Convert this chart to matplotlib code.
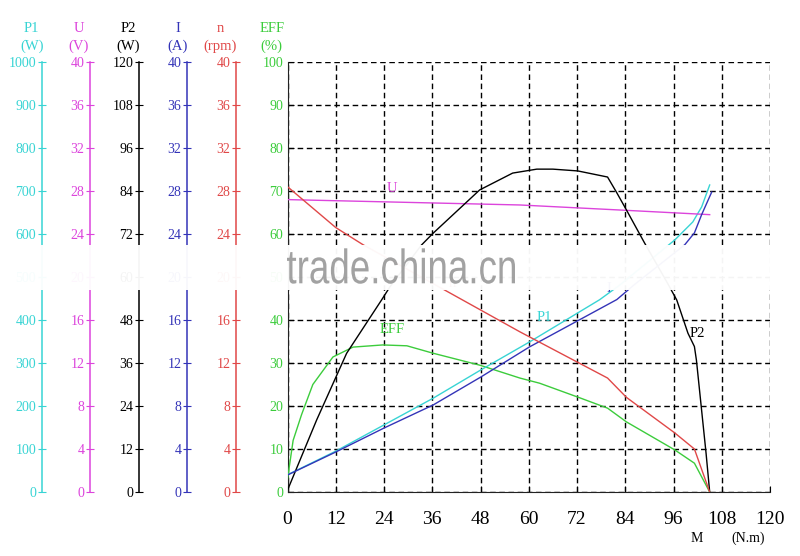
import matplotlib
matplotlib.use("Agg")
import matplotlib.pyplot as plt
import matplotlib.transforms as mtransforms
from matplotlib.patches import Rectangle, PathPatch
from matplotlib.textpath import TextPath
from matplotlib.font_manager import FontProperties

plt.rcParams['font.family'] = ['Liberation Serif', 'DejaVu Serif']

# torque M (N.m) and the curves
m_p1 = [0, 12, 24, 36.2, 48.1, 60.2, 77.6, 82.6, 96.3, 100.8, 103, 105]
p1 = [40, 95, 156, 218, 284, 349, 447, 481, 586, 628, 663, 714]

m_u = [0, 57.8, 84.3, 105]
u = [27.2, 26.7, 26.2, 25.8]

m_p2 = [0, 7.25, 14.7, 23.4, 25.5, 33.3, 36.2, 47.8, 56, 62, 66, 72.2, 79.6, 81.9,
        84.3, 88.8, 94.5, 96.8, 99.6, 101.2, 101.7, 102.9, 104.1, 105]
p2 = [0.5, 20.1, 38.7, 53.6, 57.3, 68.9, 72.2, 84.3, 89, 90.1, 90.1, 89.6, 87.9, 83.5,
      78.7, 69.5, 58.3, 53.6, 44.3, 40.6, 36.8, 23.8, 10.8, 0]

m_i = [0, 12, 24, 36.2, 48.1, 60.2, 81.9, 86.3, 98.8, 101.2, 103, 105.5]
cur = [1.58, 3.72, 5.95, 8.09, 10.7, 13.5, 17.9, 19.3, 23.0, 24.1, 25.8, 27.9]

m_n = [0, 12, 18.8, 37.1, 57.8, 72.5, 79.6, 84.3, 96.3, 101.2, 105]
n = [28.4, 24.6, 23.0, 19.2, 14.9, 12.0, 10.6, 8.8, 5.5, 4.0, 0]

m_eff = [0, 1.4, 3.5, 6.3, 11.3, 16.3, 23.7, 29.7, 36.1, 47.8, 57.8, 62.7, 72.7,
         79.6, 84.3, 96.3, 101.2, 105]
eff = [3, 12, 18, 25, 31.4, 33.7, 34.2, 34.0, 32.3, 29.5, 26.5, 25.3, 21.9,
       19.5, 16.3, 9.8, 6.7, 0]

x_ticks = [0, 12, 24, 36, 48, 60, 72, 84, 96, 108, 120]

CYAN = '#38d4d4'
MAG = '#dc44dc'
BLUE = '#3434b8'
RED = '#e04848'
GREEN = '#3ccc3c'

W, H = 800, 556
fig = plt.figure(figsize=(8, 5.56), dpi=100)

x0, x1, y0, y1 = 287.5, 770, 62, 492
ax = fig.add_axes([x0 / W, 1 - y1 / H, (x1 - x0) / W, (y1 - y0) / H])
ax.set_xlim(0, 120)
ax.set_ylim(0, 100)
ax.set_xticks(x_ticks)
ax.set_yticks(range(0, 101, 10))
ax.grid(True, color='black', lw=1.0, ls=(0, (4, 2.6)))
ax.spines['top'].set_visible(False)
ax.spines['right'].set_visible(False)
ax.spines['left'].set_color('#222222')
ax.spines['bottom'].set_color('#222222')
ax.tick_params(axis='x', direction='in', length=4, labelsize=14, pad=14)
ax.tick_params(axis='y', direction='in', length=4, labelsize=10, pad=3,
               labelcolor=GREEN)

# secondary scales on the left
scales = [
    ('P1', '(W)', CYAN, 41.7, 1000, 100, m_p1, p1, 31.7),
    ('U', '(V)', MAG, 90, 40, 4, m_u, u, 79),
    ('P2', '(W)', 'black', 139, 120, 12, m_p2, p2, 128.5),
    ('I', '(A)', BLUE, 187, 40, 4, m_i, cur, 178),
    ('n', '(rpm)', RED, 236, 40, 4, m_n, n, 220),
]
for name, unit, col, xpx, top, step, mx, vals, hx in scales:
    tw = ax.twinx()
    tw.set_ylim(0, top)
    tw.set_yticks(range(0, top + 1, step))
    tw.spines['left'].set_position(('axes', (xpx - x0) / (x1 - x0)))
    tw.spines['left'].set_color(col)
    tw.spines['left'].set_linewidth(1.1)
    for s in ('top', 'right', 'bottom'):
        tw.spines[s].set_visible(False)
    tw.yaxis.set_ticks_position('left')
    tw.tick_params(axis='y', direction='inout', length=6, color=col,
                   labelcolor=col, labelsize=10, pad=1)
    tw.plot(mx, vals, color=col, lw=1.0)
    fig.text(hx / W, 1 - 28 / H, name, color=col, ha='center', va='center',
             fontsize=10.5)
    fig.text(hx / W, 1 - 46 / H, unit, color=col, ha='center', va='center',
             fontsize=10.5)

ax.plot(m_eff, eff, color=GREEN, lw=1.0, zorder=5)
fig.text(271.7 / W, 1 - 28 / H, 'EFF', color=GREEN, ha='center', va='center',
         fontsize=10.5)
fig.text(271.7 / W, 1 - 46 / H, '(%)', color=GREEN, ha='center', va='center',
         fontsize=10.5)

# curve labels
ax.text(26, 70.5, 'U', color=MAG, ha='center', va='center', fontsize=10.5, zorder=6)
ax.text(26, 37.9, 'EFF', color=GREEN, ha='center', va='center', fontsize=10.5, zorder=6)
ax.text(64, 40.5, 'P1', color=CYAN, ha='center', va='center', fontsize=10.5, zorder=6)
ax.text(79.9, 47.3, 'I', color=BLUE, ha='center', va='center', fontsize=10.5, zorder=6)
ax.text(101.8, 36.9, 'P2', color='black', ha='center', va='center', fontsize=10.5, zorder=6)
ax.text(40.9, 48.6, 'n', color=RED, ha='center', va='center', fontsize=10.5, zorder=6)

fig.text(697 / W, 1 - 538 / H, 'M', ha='center', va='center', fontsize=10)
fig.text(748 / W, 1 - 538 / H, '(N.m)', ha='center', va='center', fontsize=10)

# watermark band
fig.add_artist(Rectangle((0, 1 - 290 / H), 1, 45 / H, transform=fig.transFigure,
                         facecolor='white', edgecolor='none', alpha=0.96, zorder=20))
tp = TextPath((0, 0), 'trade.china.cn', size=1, prop=FontProperties(family='Liberation Sans'))
bb = tp.get_extents()
sx = 228 / bb.width
sy = 35 / bb.y1
tr = mtransforms.Affine2D().scale(sx, sy).translate(287 - bb.x0 * sx, H - 283.3)
fig.add_artist(PathPatch(tp, transform=tr, facecolor='#929292', edgecolor='none',
                         alpha=0.85, zorder=21))

fig.savefig('out.png', dpi=100)
